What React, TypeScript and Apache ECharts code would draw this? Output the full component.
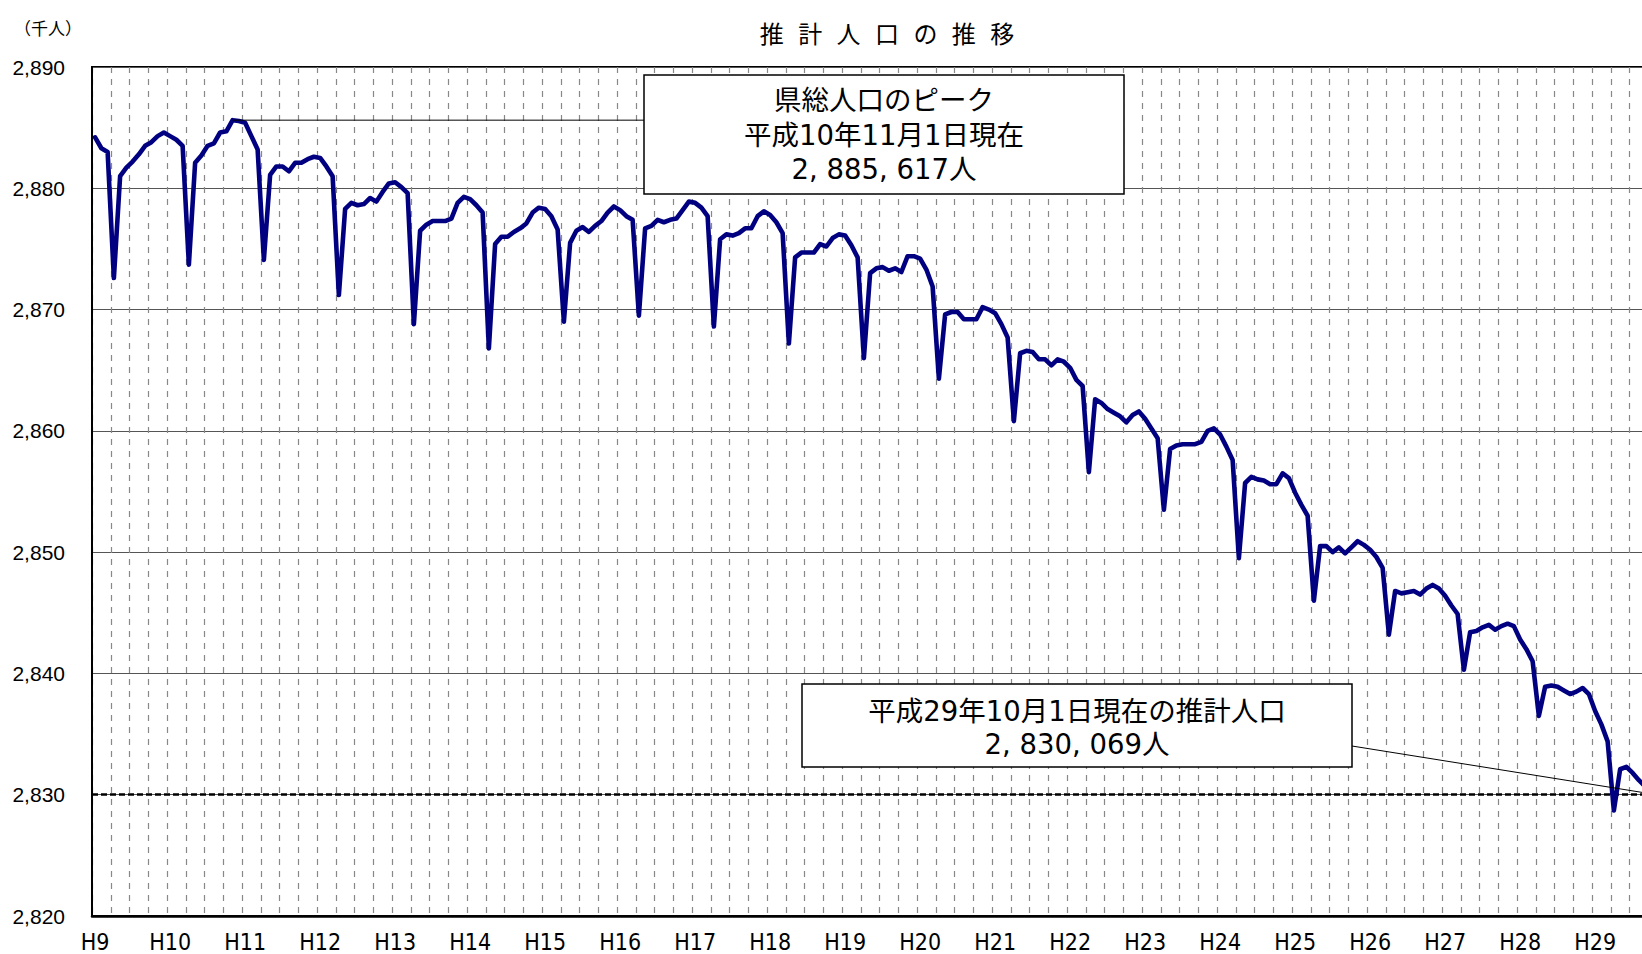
import React, { useEffect, useRef } from "react";
import * as echarts from "echarts";

// Year tick labels (Heisei years); January of each year carries the label
const yearLabels = [
  "H9", "H10", "H11", "H12", "H13", "H14", "H15", "H16", "H17", "H18", "H19",
  "H20", "H21", "H22", "H23", "H24", "H25", "H26", "H27", "H28", "H29",
];

// Monthly estimated population (thousand persons), 1st of each month
const h09 = [2884.2, 2883.3, 2883.0, 2872.6, 2881.0, 2881.7, 2882.2, 2882.8, 2883.5, 2883.8, 2884.3, 2884.6];
const h10 = [2884.3, 2884.0, 2883.5, 2873.7, 2882.1, 2882.7, 2883.5, 2883.7, 2884.6, 2884.7, 2885.617, 2885.55];
const h11 = [2885.4, 2884.3, 2883.2, 2874.1, 2881.1, 2881.8, 2881.8, 2881.4, 2882.1, 2882.1, 2882.4, 2882.6];
const h12 = [2882.5, 2881.8, 2881.0, 2871.2, 2878.3, 2878.8, 2878.6, 2878.7, 2879.2, 2878.9, 2879.7, 2880.4];
const h13 = [2880.5, 2880.1, 2879.6, 2868.8, 2876.5, 2877.0, 2877.3, 2877.3, 2877.3, 2877.5, 2878.8, 2879.3];
const h14 = [2879.1, 2878.6, 2878.0, 2866.8, 2875.4, 2876.0, 2876.0, 2876.4, 2876.7, 2877.1, 2878.0, 2878.4];
const h15 = [2878.3, 2877.7, 2876.6, 2869.0, 2875.5, 2876.5, 2876.8, 2876.4, 2876.9, 2877.3, 2878.0, 2878.5];
const h16 = [2878.2, 2877.7, 2877.4, 2869.5, 2876.7, 2876.9, 2877.4, 2877.2, 2877.4, 2877.5, 2878.2, 2878.9];
const h17 = [2878.8, 2878.4, 2877.7, 2868.6, 2875.8, 2876.2, 2876.1, 2876.3, 2876.7, 2876.7, 2877.7, 2878.1];
const h18 = [2877.8, 2877.2, 2876.3, 2867.2, 2874.3, 2874.7, 2874.7, 2874.7, 2875.4, 2875.2, 2875.9, 2876.2];
const h19 = [2876.1, 2875.3, 2874.3, 2866.0, 2873.0, 2873.4, 2873.5, 2873.2, 2873.4, 2873.1, 2874.4, 2874.4];
const h20 = [2874.2, 2873.3, 2871.9, 2864.3, 2869.6, 2869.8, 2869.8, 2869.2, 2869.2, 2869.2, 2870.2, 2870.0];
const h21 = [2869.7, 2868.8, 2867.7, 2860.8, 2866.4, 2866.6, 2866.5, 2865.9, 2865.9, 2865.4, 2865.9, 2865.7];
const h22 = [2865.2, 2864.2, 2863.7, 2856.6, 2862.6, 2862.3, 2861.8, 2861.5, 2861.2, 2860.7, 2861.3, 2861.6];
const h23 = [2861.0, 2860.2, 2859.4, 2853.5, 2858.5, 2858.8, 2858.9, 2858.9, 2858.9, 2859.1, 2860.0, 2860.2];
const h24 = [2859.7, 2858.7, 2857.6, 2849.5, 2855.7, 2856.2, 2856.0, 2855.9, 2855.6, 2855.6, 2856.5, 2856.1];
const h25 = [2854.9, 2853.9, 2853.0, 2846.0, 2850.5, 2850.5, 2850.0, 2850.4, 2849.9, 2850.4, 2850.9, 2850.6];
const h26 = [2850.2, 2849.6, 2848.7, 2843.2, 2846.8, 2846.6, 2846.7, 2846.8, 2846.5, 2847.0, 2847.3, 2847.0];
const h27 = [2846.4, 2845.6, 2844.9, 2840.3, 2843.4, 2843.5, 2843.8, 2844.0, 2843.6, 2843.9, 2844.1, 2843.9];
const h28 = [2842.8, 2842.0, 2841.0, 2836.5, 2838.9, 2839.0, 2838.9, 2838.6, 2838.3, 2838.5, 2838.8, 2838.3];
const h29 = [2836.9, 2835.8, 2834.4, 2828.7, 2832.1, 2832.3, 2831.8, 2831.2, 2830.7, 2830.069];

const yearValues = [h09, h10, h11, h12, h13, h14, h15, h16, h17, h18, h19, h20, h21, h22, h23, h24, h25, h26, h27, h28, h29];

// Y axis ticks (thousand persons)
const yTicks = [2820, 2830, 2840, 2850, 2860, 2870, 2880, 2890];

const chartTitle = "推 計 人 口 の 推 移";
const unitLabel = "（千人）";
const peakNote = ["県総人口のピーク", "平成10年11月1日現在", "2, 885, 617人"];
const latestNote = ["平成29年10月1日現在の推計人口", "2, 830, 069人"];

const JP_FONT = "'DejaVu Sans', 'Noto Sans CJK JP', sans-serif";

export default function App() {
  const ref = useRef<HTMLDivElement>(null);

  useEffect(() => {
    if (!ref.current) return;
    const chart = echarts.init(ref.current, null, { renderer: "svg" });

    const categories: string[] = [];
    const values: number[] = [];
    yearValues.forEach((arr, k) => {
      arr.forEach((v, m) => {
        categories.push(`${yearLabels[k]}/${m + 1}`);
        values.push(v);
      });
    });
    const lastIdx = values.length - 1;
    let peakIdx = 0;
    values.forEach((v, i) => {
      if (v > values[peakIdx]) peakIdx = i;
    });

    chart.setOption({
      animation: false,
      backgroundColor: "#fff",
      grid: {
        left: 92,
        top: 67,
        width: 1562.5,
        height: 849,
        show: true,
        borderColor: "#000",
        borderWidth: 2,
        backgroundColor: "transparent",
      },
      xAxis: {
        type: "category",
        data: categories,
        boundaryGap: true,
        axisLine: { show: true, lineStyle: { color: "#000", width: 2.5 } },
        axisTick: { show: false },
        axisLabel: {
          interval: 11,
          margin: 14,
          color: "#000",
          fontSize: 23,
          fontFamily: "'Liberation Sans Narrow', 'DejaVu Sans Condensed', 'Arial Narrow', sans-serif",
          formatter: (v: string) => v.split("/")[0],
        },
        splitLine: {
          show: true,
          interval: 2,
          lineStyle: { color: "#888", width: 1.2, type: [6, 6] },
        },
      },
      yAxis: {
        type: "value",
        min: yTicks[0],
        max: yTicks[yTicks.length - 1],
        interval: yTicks[1] - yTicks[0],
        axisLine: { show: true, lineStyle: { color: "#000", width: 2 } },
        axisTick: { show: false },
        axisLabel: {
          margin: 27,
          color: "#000",
          fontSize: 21,
          fontFamily: "'Liberation Sans', Arial, sans-serif",
          padding: [11, 0, 0, 0],
          formatter: (v: number) => v.toLocaleString("en-US"),
        },
        splitLine: { show: true, lineStyle: { color: "#555", width: 1 } },
      },
      series: [
        {
          type: "line",
          data: values,
          showSymbol: false,
          symbol: "none",
          lineStyle: { color: "#000080", width: 4.6, join: "round", cap: "round" },
          markLine: {
            silent: true,
            symbol: ["none", "none"],
            label: { show: false },
            lineStyle: { color: "#000", width: 2.6, type: [6, 3], opacity: 1 },
            data: [{ yAxis: values[lastIdx] }],
          },
          z: 5,
        },
      ],
    });

    const pPeak = chart.convertToPixel({ gridIndex: 0 }, [peakIdx, values[peakIdx]]);
    const pLast = chart.convertToPixel({ gridIndex: 0 }, [lastIdx, values[lastIdx]]);

    const box1 = { x: 644, y: 75, w: 480, h: 119 };
    const box2 = { x: 802, y: 684, w: 550, h: 83 };

    const textStyle = (t: string, x: number, y: number, size: number, font: string) => ({
      type: "text",
      x,
      y,
      z: 110,
      style: {
        text: t,
        fill: "#000",
        font: `${size}px ${font}`,
        textAlign: "center",
        textVerticalAlign: "middle",
        verticalAlign: "middle",
        align: "center",
      },
    });

    chart.setOption({
      graphic: [
        textStyle(chartTitle, 887, 36, 24, "'Liberation Mono', 'Noto Sans CJK JP', sans-serif"),
        textStyle(unitLabel, 48, 27, 17, "'Noto Sans CJK JP', sans-serif"),
        {
          type: "line",
          z: 90,
          shape: { x1: pPeak[0], y1: pPeak[1], x2: box1.x, y2: pPeak[1] },
          style: { stroke: "#000", lineWidth: 1 },
        },
        {
          type: "line",
          z: 90,
          shape: { x1: box2.x + box2.w, y1: 746, x2: pLast[0], y2: pLast[1] },
          style: { stroke: "#000", lineWidth: 1 },
        },
        {
          type: "rect",
          z: 100,
          shape: { x: box1.x, y: box1.y, width: box1.w, height: box1.h },
          style: { fill: "#fff", stroke: "#000", lineWidth: 1.5 },
        },
        {
          type: "rect",
          z: 100,
          shape: { x: box2.x, y: box2.y, width: box2.w, height: box2.h },
          style: { fill: "#fff", stroke: "#000", lineWidth: 1.5 },
        },
        textStyle(peakNote[0], box1.x + box1.w / 2, 100, 27.5, JP_FONT),
        textStyle(peakNote[1], box1.x + box1.w / 2, 135, 27.5, JP_FONT),
        textStyle(peakNote[2], box1.x + box1.w / 2, 169, 27.5, JP_FONT),
        textStyle(latestNote[0], box2.x + box2.w / 2, 711, 27.5, JP_FONT),
        textStyle(latestNote[1], box2.x + box2.w / 2, 744, 27.5, JP_FONT),
      ],
    });

    return () => chart.dispose();
  }, []);

  return (
    <div
      style={{
        position: "absolute",
        left: 0,
        top: 0,
        width: 1642,
        height: 954,
        overflow: "hidden",
        textSpacingTrim: "space-all",
      } as React.CSSProperties}
    >
      <div ref={ref} style={{ width: 1662, height: 954 }} />
    </div>
  );
}
